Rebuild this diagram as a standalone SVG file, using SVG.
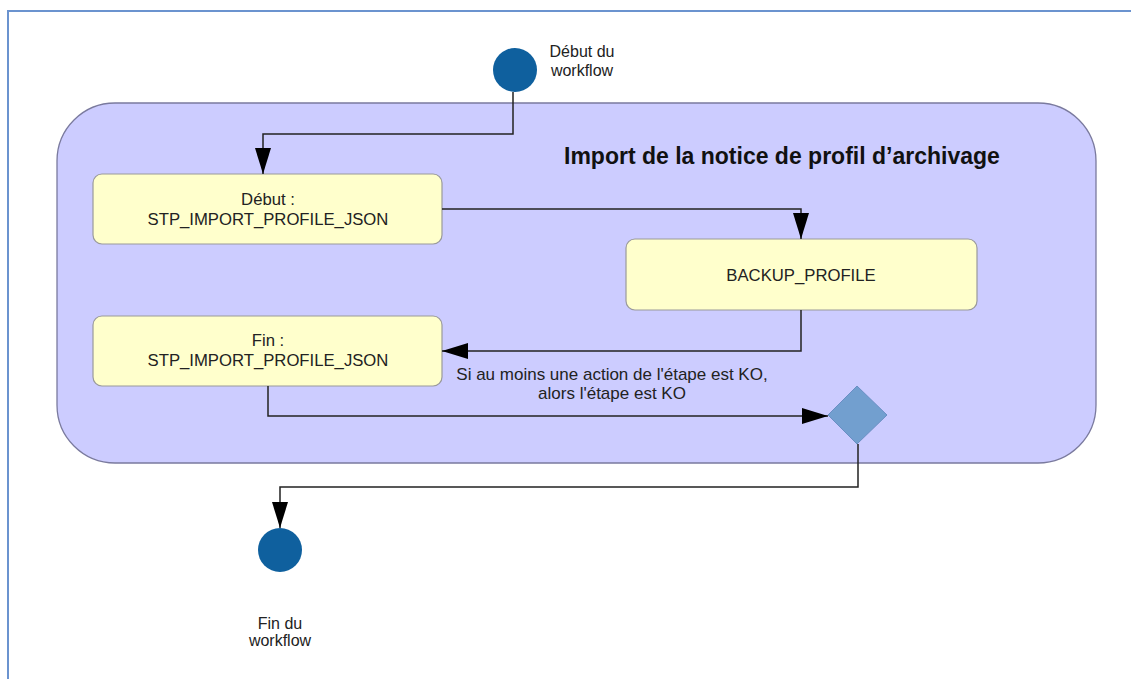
<svg xmlns="http://www.w3.org/2000/svg" width="1131" height="679" viewBox="0 0 1131 679">
<defs>
<style>
.txt{font-family:"Liberation Sans",Arial,sans-serif;font-size:16px;fill:#222;text-anchor:middle}
.big{font-size:16.7px}
.lbl{font-size:17px}
.title{font-family:"Liberation Sans",Arial,sans-serif;font-size:23px;font-weight:bold;fill:#111}
.box{fill:#ffffcc;stroke:#9a9a9a;stroke-width:1.2}
.conn{fill:none;stroke:#222;stroke-width:1.5}
.term{fill:#0f609e}
</style>
<marker id="arr" viewBox="0 0 26 16" refX="26" refY="8" markerWidth="26" markerHeight="16" markerUnits="userSpaceOnUse" orient="auto">
<path d="M0,0 L26,8 L0,16 Z" fill="#000"/>
</marker>
</defs>
<rect width="1131" height="679" fill="#fff"/>
<path d="M8,679 L8,11 L1131,11" fill="none" stroke="#6b93cf" stroke-width="2"/>
<g id="container">
<rect x="57" y="103" width="1039" height="360" rx="58" ry="58" fill="#ccccff" stroke="#7a7a9e" stroke-width="1.3"/>
<text class="title" x="564" y="164">Import de la notice de profil d’archivage</text>
</g>
<g id="start">
<circle class="term" cx="515" cy="70" r="22"/>
<text class="txt" x="582" y="57">Début du</text>
<text class="txt" x="582" y="76">workflow</text>
</g>
<g id="step_begin">
<rect class="box" x="93" y="174" width="349" height="70" rx="9"/>
<text class="txt big" x="268" y="205">Début :</text>
<text class="txt big" x="268" y="225">STP_IMPORT_PROFILE_JSON</text>
</g>
<g id="backup">
<rect class="box" x="626" y="239" width="351" height="71" rx="9"/>
<text class="txt big" x="801" y="281">BACKUP_PROFILE</text>
</g>
<g id="step_end">
<rect class="box" x="93" y="316" width="349" height="70" rx="9"/>
<text class="txt big" x="268" y="346">Fin :</text>
<text class="txt big" x="268" y="366">STP_IMPORT_PROFILE_JSON</text>
</g>
<g id="decision">
<polygon points="857,386 887,415 857,444 828,415" fill="#729fcf" stroke="#6a8fc4" stroke-width="1"/>
</g>
<g id="end">
<circle class="term" cx="280" cy="550" r="22"/>
<text class="txt" x="280" y="629">Fin du</text>
<text class="txt" x="280" y="646">workflow</text>
</g>
<g id="connectors">
<path class="conn" d="M513,92 L513,134 L263,134 L263,174" marker-end="url(#arr)"/>
<path class="conn" d="M442,209 L801,209 L801,239" marker-end="url(#arr)"/>
<path class="conn" d="M801,310 L801,351 L442,351" marker-end="url(#arr)"/>
<text class="txt lbl" x="612" y="380">Si au moins une action de l'étape est KO,</text>
<text class="txt lbl" x="612" y="399">alors l'étape est KO</text>
<path class="conn" d="M268,386 L268,416 L828,416" marker-end="url(#arr)"/>
<path class="conn" d="M858,444 L858,487 L280,487 L280,528" marker-end="url(#arr)"/>
</g>
</svg>
